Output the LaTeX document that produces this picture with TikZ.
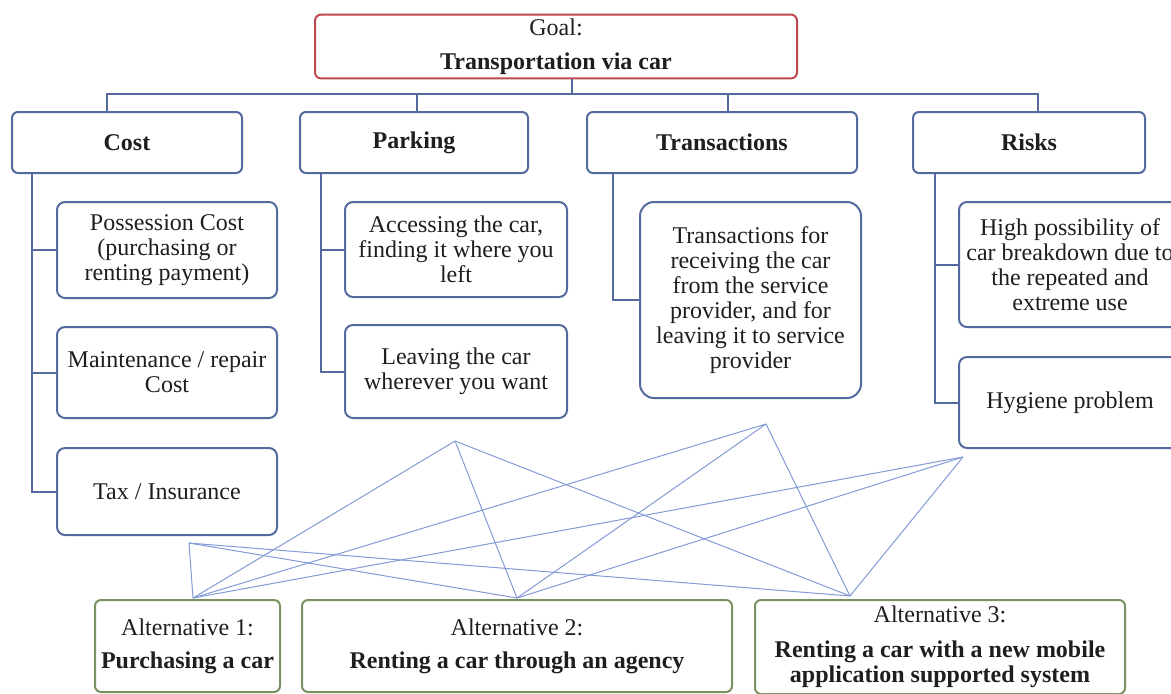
\documentclass[tikz,border=0pt]{standalone}
\usepackage{fontspec}
\setmainfont{Liberation Serif}
\usetikzlibrary{calc,positioning}

\definecolor{boxblue}{RGB}{84,106,158}
\definecolor{goalred}{RGB}{192,72,82}
\definecolor{altgreen}{RGB}{122,146,98}
\definecolor{linkblue}{RGB}{132,154,214}
\definecolor{txt}{RGB}{30,30,30}

\begin{document}
\begin{tikzpicture}[x=0.5pt,y=-0.5pt,
	every node/.style={font=\fontsize{12}{12.5}\selectfont,text=txt,align=center,inner sep=2pt},
	goalbox/.style={draw=goalred,line width=1pt,rounded corners=3pt},
	crit/.style={draw=boxblue,line width=1pt,rounded corners=3pt,minimum height=30.5pt,
		font=\fontsize{12}{12.5}\selectfont\bfseries},
	sub/.style={draw=boxblue,line width=1pt,rounded corners=4pt,minimum width=110pt},
	alt/.style={draw=altgreen,line width=1pt,rounded corners=3pt,minimum height=46pt},
	branch/.style={draw=boxblue,line width=1pt},
	link/.style={draw=linkblue,line width=0.5pt},]
	\useasboundingbox (0,0) rectangle (1171,693);
	\node [goalbox,minimum width=241pt,minimum height=31.5pt] (goal) at (556,46.5)
		{Goal:\\[4.5pt]\textbf{Transportation via car}};
	\node [crit,minimum width=115pt] (cost) at (127,142.5) {Cost};
	\node [crit,minimum width=114pt] (parking) at (414,142.5) {Parking};
	\node [crit,minimum width=135pt] (trans) at (722,142.5) {Transactions};
	\node [crit,minimum width=116pt] (risks) at (1029,142.5) {Risks};
	\node [sub,minimum height=48pt] (possession) at (167,250)
		{Possession Cost\\(purchasing or\\renting payment)};
	\node [sub,minimum height=45.5pt] (maint) at (167,372.5) {Maintenance / repair\\Cost};
	\node [sub,minimum height=43.5pt] (tax) at (167,491.5) {Tax / Insurance};
	\node [sub,minimum width=111pt,minimum height=47.5pt] (access) at (456,249.5)
		{Accessing the car,\\finding it where you\\left};
	\node [sub,minimum width=111pt,minimum height=46.5pt] (leaving) at (456,371.5)
		{Leaving the car\\wherever you want};
	\node [sub,rounded corners=7pt,minimum width=110.5pt,minimum height=98pt] (transdet) at (750.5,300)
		{Transactions for\\receiving the car\\from the service\\provider, and for\\leaving it to service\\provider};
	\node [sub,minimum width=111pt,minimum height=62.5pt] (highposs) at (1070,264.5)
		{High possibility of\\car breakdown due to\\the repeated and\\extreme use};
	\node [sub,minimum width=111pt,minimum height=45.5pt] (hygiene) at (1070,402.5) {Hygiene problem};
	\node [alt,minimum width=92.5pt] (alt1) at (187.5,646)
		{Alternative 1:\\[4pt]\textbf{Purchasing a car}};
	\node [alt,minimum width=215pt] (alt2) at (517,646)
		{Alternative 2:\\[4pt]\textbf{Renting a car through an agency}};
	\node [alt,minimum width=185pt,minimum height=47pt] (alt3) at (940,647)
		{Alternative 3:\\[5pt]\textbf{Renting a car with a new mobile}\\\textbf{application supported system}};

	\coordinate (bus) at (0,94);
	\coordinate (ctick) at ([xshift=-10pt]cost.north);
	\coordinate (gtick) at ([xshift=8pt]goal.south);
	\coordinate (ptick) at ([xshift=1.5pt]parking.north);
	\coordinate (ttick) at ([xshift=3pt]trans.north);
	\coordinate (rtick) at ([xshift=4.5pt]risks.north);
	\draw [branch] (ctick) |- (bus -| rtick) -- (rtick);
	\foreach \n in {gtick,ptick,ttick}
		\draw [branch] (\n) -- (\n |- bus);
	\foreach \n in {possession,maint,tax}
		\draw [branch] ([xshift=10.5pt]cost.south west) |- (\n.west);
	\foreach \n in {access,leaving}
		\draw [branch] ([xshift=11pt]parking.south west) |- (\n.west);
	\draw [branch] ([xshift=13.5pt]trans.south west) |- (transdet.west);
	\foreach \n in {highposs,hygiene}
		\draw [branch] ([xshift=11.5pt]risks.south west) |- (\n.west);

	\coordinate (s1) at (189,543);
	\coordinate (s2) at (455,441);
	\coordinate (s3) at (766,424);
	\coordinate (s4) at (963,457);
	\coordinate (a1) at (193,598);
	\coordinate (a2) at (517,598);
	\coordinate (a3) at (850,596);
	\foreach \s in {s1,s2,s3,s4}
		\foreach \a in {a1,a2,a3}
			\draw [link] (\s) -- (\a);
\end{tikzpicture}
\end{document}
